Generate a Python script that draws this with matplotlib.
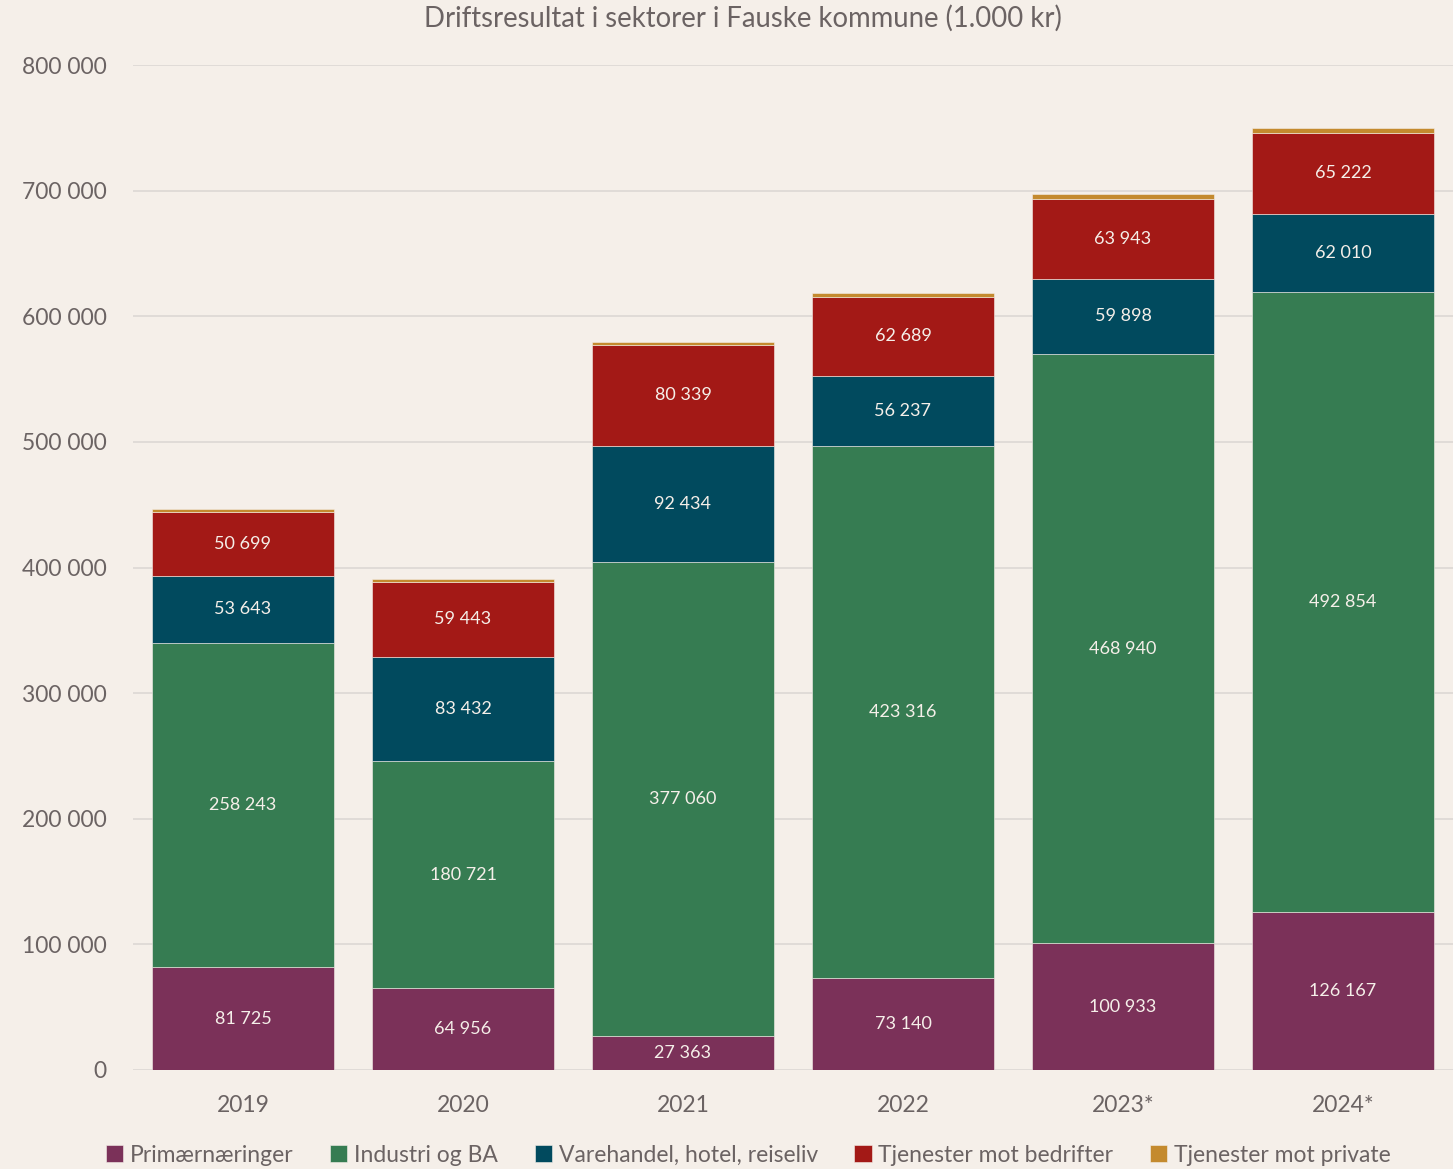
import matplotlib
import matplotlib.pyplot as plt
import numpy as np
matplotlib.use('Agg')

plt.rcParams['font.family'] = ['Lato', 'DejaVu Sans']

years = ['2019', '2020', '2021', '2022', '2023*', '2024*']
primaer = [81725, 64956, 27363, 73140, 100933, 126167]
industri = [258243, 180721, 377060, 423316, 468940, 492854]
varehandel = [53643, 83432, 92434, 56237, 59898, 62010]
tj_bedrifter = [50699, 59443, 80339, 62689, 63943, 65222]
tj_private = [2000, 2200, 2500, 3000, 3600, 3700]

series = [
    ('Primærnæringer', primaer, '#7b3159'),
    ('Industri og BA', industri, '#367c52'),
    ('Varehandel, hotel, reiseliv', varehandel, '#014a5e'),
    ('Tjenester mot bedrifter', tj_bedrifter, '#a31916'),
    ('Tjenester mot private', tj_private, '#c48a2e'),
]

bg = '#f5efe9'
text_col = '#6b6363'


def fmt(v):
    return f'{v:,.0f}'.replace(',', ' ')


fig = plt.figure(figsize=(14.53, 11.69), dpi=100, facecolor=bg)
ax = fig.add_axes([133 / 1453, 99 / 1169, 1320 / 1453, 1005 / 1169], facecolor=bg)

x = np.arange(len(years))
bottom = np.zeros(len(years))
for name, vals, col in series:
    vals = np.array(vals, dtype=float)
    ax.bar(x, vals, 0.83, bottom=bottom, color=col, label=name,
           edgecolor='#f5efe9', linewidth=0.4, zorder=3)
    if name != 'Tjenester mot private':
        for xi, b, v in zip(x, bottom, vals):
            ax.text(xi, b + v / 2, fmt(v), ha='center', va='center',
                    color='#f5efe9', fontsize=13, zorder=4)
    bottom += vals

ax.set_xlim(-0.5, 5.5)
ax.set_ylim(0, 800000)
ax.set_yticks(range(0, 800001, 100000))
ax.set_yticklabels([fmt(v) for v in range(0, 800001, 100000)])
ax.set_xticks(x)
ax.set_xticklabels(years)
ax.tick_params(axis='both', length=0, labelsize=16.5, colors=text_col)
ax.tick_params(axis='y', pad=19)
ax.tick_params(axis='x', pad=18)
ax.yaxis.grid(True, color='#dcd8d4', linewidth=1.2, zorder=0)
for s in ax.spines.values():
    s.set_visible(False)

fig.text(743 / 1453, 1 - 18 / 1169, 'Driftsresultat i sektorer i Fauske kommune (1.000 kr)',
         ha='center', va='center', fontsize=19.8, color=text_col)

fig.legend(loc='center', bbox_to_anchor=(0.515, 1 - 1155 / 1169), ncol=5,
           frameon=False, fontsize=16.5, handlelength=0.75, handleheight=0.75,
           handletextpad=0.3, columnspacing=1.6, labelcolor=text_col)

plt.savefig('out.png', dpi=100, facecolor=bg)
plt.close()
